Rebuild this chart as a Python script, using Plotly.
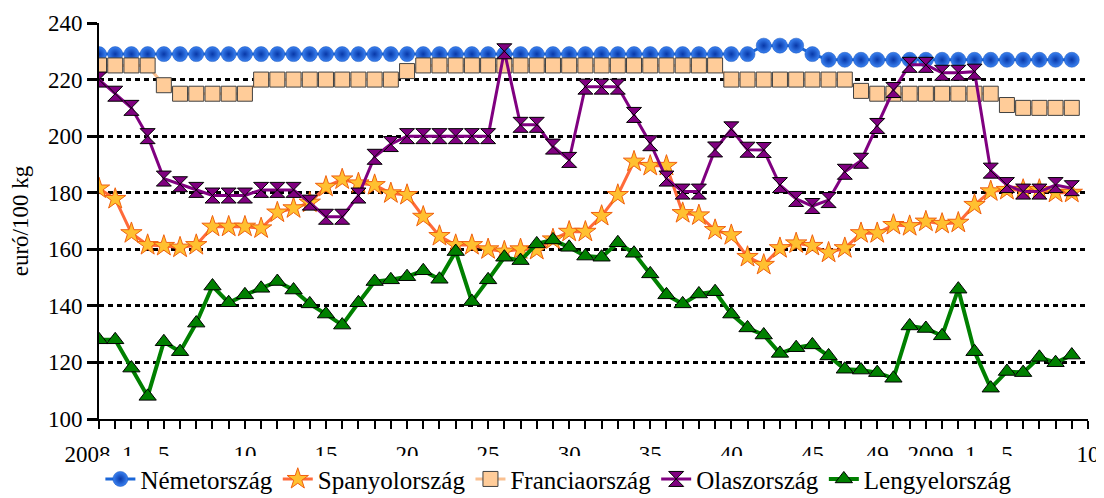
import plotly.graph_objects as go

weeks = [f"2008. {i}" for i in range(1, 53)] + [f"2009. {i}" for i in range(1, 11)]

tick_weeks = ["2008. 1", "2008. 5", "2008. 10", "2008. 15", "2008. 20", "2008. 25",
              "2008. 30", "2008. 35", "2008. 40", "2008. 45", "2008. 49",
              "2009. 1", "2009. 5", "2009. 10"]
tick_text = ["2008. 1", "5", "10", "15", "20", "25", "30", "35", "40", "45", "49",
             "2009. 1", "5", "10"]

nemet = [229, 229, 229, 229, 229, 229, 229, 229, 229, 229,
         229, 229, 229, 229, 229, 229, 229, 229, 229, 229,
         229, 229, 229, 229, 229, 229, 229, 229, 229, 229,
         229, 229, 229, 229, 229, 229, 229, 229, 229, 229,
         229, 232, 232, 232, 229, 227, 227, 227, 227, 227,
         227, 227, 227, 227, 227, 227, 227, 227, 227, 227,
         227, None]

spanyol = [181.5, 177.8, 165.7, 161.5, 161.2, 160.6, 161.5, 168, 168, 168,
           167.4, 173, 174.5, 176.5, 182.1, 184.7, 183.3, 182.7, 179.8, 179.2,
           171.5, 164.7, 161.5, 161.5, 160, 159.2, 160, 159.8, 163.5, 166.2,
           166.2, 171.8, 179.2, 191, 189.5, 189.5, 172.8, 172, 166.8, 165,
           157.3, 154.5, 160.4, 162.1, 161.2, 158.8, 160.4, 165.7, 165.7, 168.6,
           168.2, 169.8, 169, 169.4, 175.7, 180.5, 181, 181, 181, 180,
           180, None]

francia = [225, 225, 225, 225, 218, 215, 215, 215, 215, 215,
           220, 220, 220, 220, 220, 220, 220, 220, 220, 223,
           225, 225, 225, 225, 225, 225, 225, 225, 225, 225,
           225, 225, 225, 225, 225, 225, 225, 225, 225, 220,
           220, 220, 220, 220, 220, 220, 220, 216, 215, 215,
           215, 215, 215, 215, 215, 215, 211, 210, 210, 210,
           210, None]

olasz = [220, 215, 210, 200, 185, 183, 181, 179, 179, 179,
         181, 181, 181, 176.5, 171.5, 171.5, 179, 192.7, 197.2, 200,
         200, 200, 200, 200, 200, 230, 204, 204, 196.3, 191.6,
         217.5, 217.5, 217.5, 207.5, 197.5, 185, 180.4, 180.4, 195.3, 202.4,
         195.2, 195.1, 182.7, 177.8, 175.3, 177.4, 187.4, 191.3, 203.6, 216.3,
         225.2, 225.2, 222.4, 222.4, 222.8, 187.8, 182.7, 180.4, 180.4, 182.7,
         181.6, None]

lengyel = [128, 128, 118, 108, 127.3, 123.8, 133.9, 147, 141.1, 143.9,
           146.2, 148.6, 145.6, 140.7, 137.1, 133.2, 141.1, 148.6, 149.2, 150.3,
           152.4, 149.4, 159.2, 141.5, 149.2, 157.2, 156, 161.9, 163.3, 160.7,
           157.6, 157.2, 162.3, 158.6, 151.3, 143.9, 140.7, 144.2, 145, 137.1,
           132.2, 129.7, 123.2, 125.2, 126.2, 122.3, 117.6, 117.3, 116.4, 114.4,
           132.9, 132, 129.4, 145.9, 123.8, 110.9, 116.8, 116.4, 121.8, 119.9,
           122.6, None]

series = [
    ("Németország", nemet, dict(color="#1A66D8", width=3),
     dict(symbol="circle", size=15, color="#3A82F2",
          gradient=dict(type="radial", color="#0838A8"),
          line=dict(color="#1550B8", width=0.5))),
    ("Spanyolország", spanyol, dict(color="#FF6A3A", width=3),
     dict(symbol="star", size=16, color="#FFC030",
          line=dict(color="#F06010", width=1))),
    ("Franciaország", francia, dict(color="#FAC090", width=3),
     dict(symbol="square", size=15, color="#FFCC99",
          line=dict(color="#404040", width=1))),
    ("Olaszország", olasz, dict(color="#800080", width=3),
     dict(symbol="hourglass", size=15, color="#800080",
          line=dict(color="black", width=1))),
    ("Lengyelország", lengyel, dict(color="#008000", width=4),
     dict(symbol="triangle-up", size=15, color="#008000",
          line=dict(color="black", width=1))),
]

fig = go.Figure()
for name, vals, line, marker in series:
    fig.add_trace(go.Scatter(x=weeks, y=vals, name=name, mode="lines+markers",
                             line=line, marker=marker, connectgaps=False))

font_family = "Liberation Serif"

# the page body adds an 8px margin, so the figure is 8px smaller on each axis
fig.update_layout(
    width=1096,
    height=490,
    margin=dict(l=91, r=16, t=15, b=79, autoexpand=False),
    plot_bgcolor="white",
    paper_bgcolor="white",
    font=dict(family=font_family, size=23, color="black"),
    showlegend=True,
    legend=dict(orientation="h", x=0.465, xanchor="center", y=-0.152, yanchor="middle",
                font=dict(size=25), itemwidth=30, tracegroupgap=0),
)

fig.update_xaxes(
    type="category",
    categoryorder="array",
    categoryarray=weeks,
    range=[0, 61],
    automargin=False,
    tickmode="array",
    tickvals=tick_weeks,
    ticktext=tick_text,
    ticks="outside",
    ticklen=8,
    tickwidth=2,
    tickcolor="black",
    ticklabelstandoff=5,
    tickfont=dict(size=23),
    showline=True,
    linecolor="black",
    linewidth=2,
    showgrid=False,
    minor=dict(ticks="outside", ticklen=8, tickwidth=2, tickcolor="black",
               dtick=1, tick0=0, showgrid=False),
)

fig.update_yaxes(
    range=[100, 240],
    dtick=20,
    tick0=100,
    automargin=False,
    ticks="outside",
    ticklen=10,
    tickwidth=3,
    tickcolor="black",
    tickfont=dict(size=23),
    showline=True,
    linecolor="black",
    linewidth=2,
    showgrid=True,
    gridcolor="black",
    gridwidth=2.5,
    griddash="5px,4px",
    zeroline=False,
    title=dict(text="euró/100 kg", font=dict(size=23), standoff=13),
)

fig.write_html("out.html")
